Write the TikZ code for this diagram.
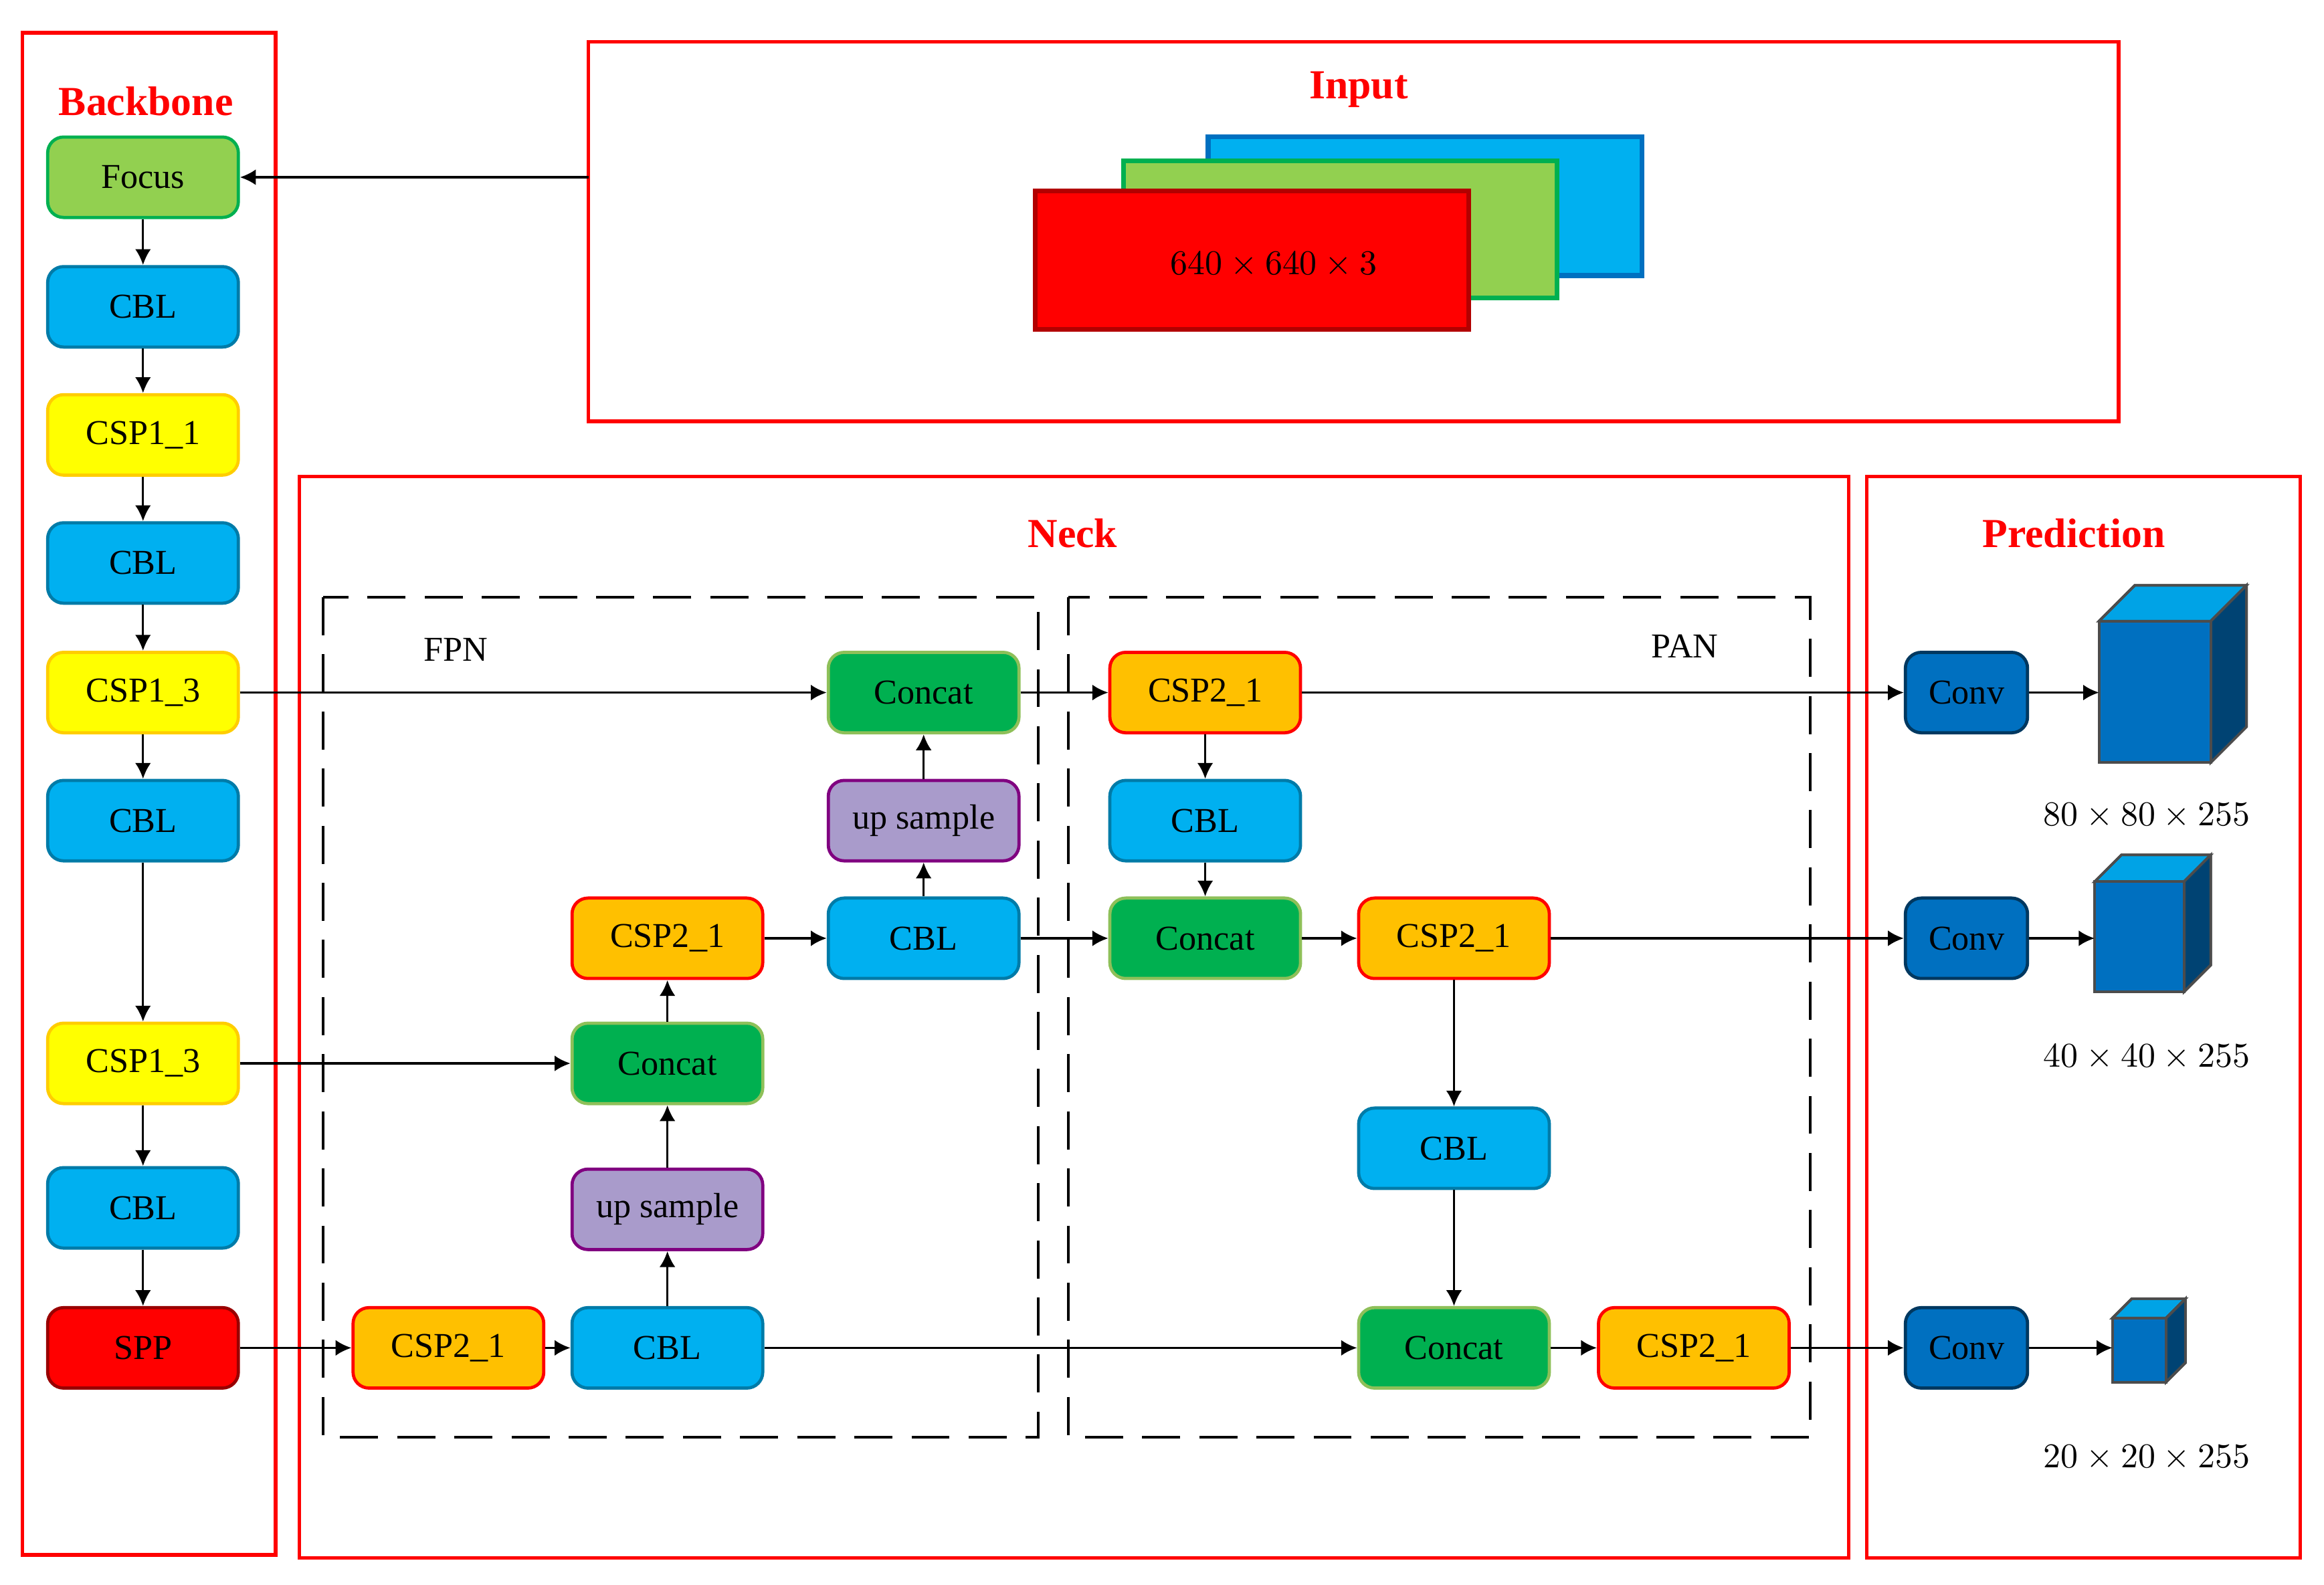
\documentclass[tikz,border=0pt]{standalone}
\usepackage{fontspec}
\setmainfont{Liberation Serif}
\usetikzlibrary{arrows.meta}
\definecolor{cblue}{HTML}{00B0F0}
\definecolor{cyellow}{HTML}{FFFF00}
\definecolor{cgreen}{HTML}{00B050}
\definecolor{clight}{HTML}{92D050}
\definecolor{corange}{HTML}{FFC000}
\definecolor{cpurple}{HTML}{A99BCB}
\definecolor{cconv}{HTML}{0070C0}
\begin{document}
\begin{tikzpicture}[x=0.0165cm, y=-0.0165cm, font=\fontsize{11}{13}\selectfont,
  blk/.style={rounded corners=5pt, line width=1pt, minimum width=128*0.0165cm, minimum height=54*0.0165cm, inner sep=0pt},
  cbl/.style={blk, fill=cblue, draw=cblue!70!black},
  csp/.style={blk, fill=cyellow, draw=corange!80!yellow},
  cspb/.style={blk, fill=corange, draw=red},
  cat/.style={blk, fill=cgreen, draw=clight!80!gray},
  ups/.style={blk, fill=cpurple, draw=violet},
  conv/.style={blk, fill=cconv, draw=cconv!50!black, minimum width=82*0.0165cm},
  frame/.style={draw=red, line width=1.2pt},
  dashbox/.style={draw, line width=0.8pt, dash pattern=on 12pt off 6pt},
  title/.style={text=red, font=\fontsize{13}{15}\selectfont\bfseries},
  arr/.style={-{Latex[length=5pt,width=5pt]}, line width=0.7pt},
  cubefront/.style={fill=cconv, draw=black!70, line width=0.8pt},
  cubetop/.style={fill=cblue!80!cconv, draw=black!70, line width=0.8pt},
  cubeside/.style={fill=cconv!60!black, draw=black!70, line width=0.8pt}]

\useasboundingbox (0,0) rectangle (1560,1064);

% Frames
\draw[frame] (15,22) rectangle (185,1044);
\draw[frame] (395,28) rectangle (1422,283);
\draw[frame] (201,320) rectangle (1241,1046);
\draw[frame] (1253,320) rectangle (1544,1046);
\draw[dashbox] (217,401) rectangle (697,965);
\draw[dashbox] (717,401) rectangle (1215,965);

\node[title] (tback) at (98,68) {Backbone};
\node[title] (tin) at (912,60) {Input};
\node[title] (tneck) at (720,358) {Neck};
\node[title] (tpred) at (1392,358) {Prediction};
\node (tfpn) at (306,436) {FPN};
\node (tpan) at (1131,434) {PAN};

% Input
\draw[fill=cblue, draw=cconv, line width=1.5pt] (811,92) rectangle (1102,185);
\draw[fill=clight, draw=cgreen, line width=1.5pt] (754,108) rectangle (1045,200);
\draw[fill=red, draw=red!70!black, line width=1.5pt] (695,128) rectangle (986,221);
\node (isize) at (855,178) {$640\times640\times3$};
\coordinate (inw) at (395,119);

% Backbone
\node[blk, fill=clight, draw=cgreen] (focus) at (96,119) {Focus};
\node[cbl] (b1) at (96,206) {CBL};
\node[csp] (b2) at (96,292) {CSP1\_1};
\node[cbl] (b3) at (96,378) {CBL};
\node[csp] (b4) at (96,465) {CSP1\_3};
\node[cbl] (b5) at (96,551) {CBL};
\node[csp] (b6) at (96,714) {CSP1\_3};
\node[cbl] (b7) at (96,811) {CBL};
\node[blk, fill=red, draw=red!60!black] (spp) at (96,905) {SPP};

% FPN
\node[cspb] (f1) at (301,905) {CSP2\_1};
\node[cbl] (f2) at (448,905) {CBL};
\node[ups] (f3) at (448,812) {up sample};
\node[cat] (f4) at (448,714) {Concat};
\node[cspb] (f5) at (448,630) {CSP2\_1};
\node[cbl] (f6) at (620,630) {CBL};
\node[ups] (f7) at (620,551) {up sample};
\node[cat] (f8) at (620,465) {Concat};

% PAN
\node[cspb] (p1) at (809,465) {CSP2\_1};
\node[cbl] (p2) at (809,551) {CBL};
\node[cat] (p3) at (809,630) {Concat};
\node[cspb] (p4) at (976,630) {CSP2\_1};
\node[cbl] (p5) at (976,771) {CBL};
\node[cat] (p6) at (976,905) {Concat};
\node[cspb] (p7) at (1137,905) {CSP2\_1};

% Prediction
\node[conv] (c1) at (1320,465) {Conv};
\node[conv] (c2) at (1320,630) {Conv};
\node[conv] (c3) at (1320,905) {Conv};

% cubes: front box, depth
\newcommand{\drawCube}[5]{%
  \fill[cubetop] (#1,#2) -- ++(#5,-#5) -- ++(#3-#1,0) -- ++(-#5,#5) -- cycle;
  \fill[cubeside] (#3,#2) -- ++(#5,-#5) -- ++(0,#4-#2) -- ++(-#5,#5) -- cycle;
  \draw[cubefront] (#1,#2) rectangle (#3,#4);
  \draw[cubetop, fill=none] (#1,#2) -- ++(#5,-#5) -- ++(#3-#1,0) -- ++(0,#4-#2) -- ++(-#5,#5);
  \draw[cubetop, fill=none] (#3,#2) -- ++(#5,-#5);
}
\drawCube{1409}{417}{1484}{512}{24}
\drawCube{1406}{592}{1466}{666}{18}
\drawCube{1418}{885}{1454}{928}{13}
\coordinate (k1) at (1409,465);
\coordinate (k2) at (1406,630);
\coordinate (k3) at (1418,905);
\node (s1) at (1441,548) {$80\times80\times255$};
\node (s2) at (1441,710) {$40\times40\times255$};
\node (s3) at (1441,979) {$20\times20\times255$};

% Connectors
\draw[arr] (inw) -- (focus);
\foreach \a/\b in {focus/b1, b1/b2, b2/b3, b3/b4, b4/b5, b5/b6, b6/b7, b7/spp} {
  \draw[arr] (\a) -- (\b);
}
\foreach \a/\b in {spp/f1, f1/f2, f2/f3, f3/f4, f4/f5, f5/f6, f6/f7, f7/f8, f8/p1,
                   p1/p2, p2/p3, f6/p3, p3/p4, p4/p5, p5/p6, f2/p6, p6/p7,
                   p7/c3, p1/c1, p4/c2, b4/f8, b6/f4} {
  \draw[arr] (\a) -- (\b);
}
\draw[arr] (c1) -- (k1);
\draw[arr] (c2) -- (k2);
\draw[arr] (c3) -- (k3);

\end{tikzpicture}
\end{document}
